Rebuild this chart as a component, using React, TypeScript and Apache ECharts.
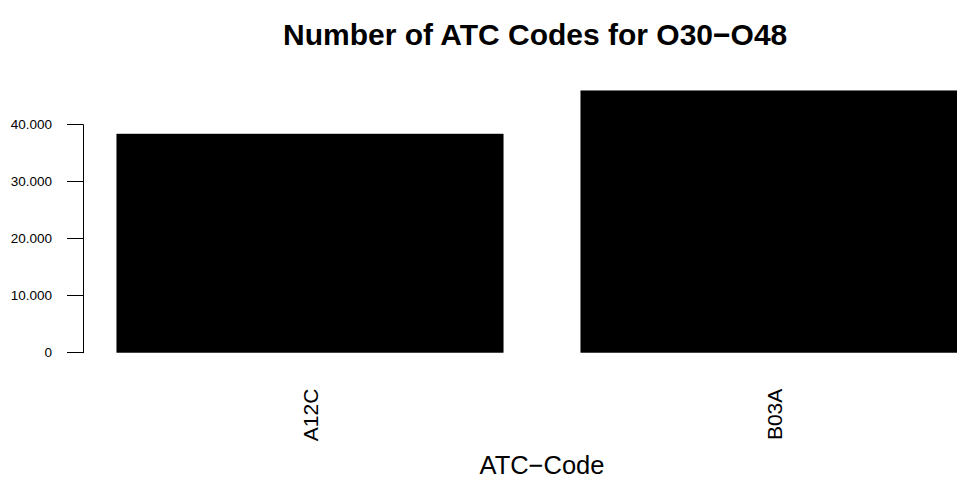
import React, { useEffect, useRef } from "react";
import * as echarts from "echarts";

const categories = ["A12C", "B03A"];
const counts = [38400, 46000];
const yTicks = [0, 10000, 20000, 30000, 40000];
const titleText = "Number of ATC Codes for O30\u2212O48";
const xName = "ATC\u2212Code";

const FONT = "'Liberation Sans', Arial, Helvetica, sans-serif";

export default function App() {
  const ref = useRef<HTMLDivElement>(null);
  useEffect(() => {
    if (!ref.current) return;
    const chart = echarts.init(ref.current, null, { renderer: "svg" });
    chart.setOption({
      animation: false,
      backgroundColor: "#ffffff",
      title: {
        text: titleText,
        left: 278,
        top: 14,
        textStyle: { fontFamily: FONT, fontSize: 30, fontWeight: "bold", color: "#000" },
      },
      grid: { left: 78, right: 14, top: 124.7, bottom: 126.3, containLabel: false },
      xAxis: {
        type: "category",
        data: categories,
        boundaryGap: true,
        axisLine: { show: false },
        axisTick: { show: false },
        axisLabel: { rotate: 90, fontSize: 21, margin: 36, color: "#000", fontFamily: FONT },
        name: xName,
        nameLocation: "middle",
        nameGap: 99,
        nameTextStyle: { fontSize: 25.5, color: "#000", fontFamily: FONT },
      },
      yAxis: {
        type: "value",
        min: yTicks[0],
        max: yTicks[yTicks.length - 1],
        interval: yTicks[1] - yTicks[0],
        offset: -5,
        splitLine: { show: false },
        axisLine: { show: true, lineStyle: { color: "#000", width: 1 } },
        axisTick: { show: true, length: 16, inside: false, lineStyle: { color: "#000", width: 1 } },
        axisLabel: {
          margin: 31,
          fontSize: 13.5,
          color: "#000",
          fontFamily: FONT,
          formatter: (v: number) => v.toLocaleString("de-DE"),
        },
      },
      series: [
        {
          type: "bar",
          data: counts,
          barWidth: 387,
          clip: false,
          itemStyle: { color: "#000", borderColor: "#000", borderWidth: 0.5 },
        },
      ],
    });
    return () => chart.dispose();
  }, []);
  return (
    <div style={{ position: "absolute", left: 0, top: 0, width: 957, height: 479, overflow: "hidden", background: "#fff" }}>
      <div ref={ref} style={{ width: 1020, height: 479 }} />
    </div>
  );
}
